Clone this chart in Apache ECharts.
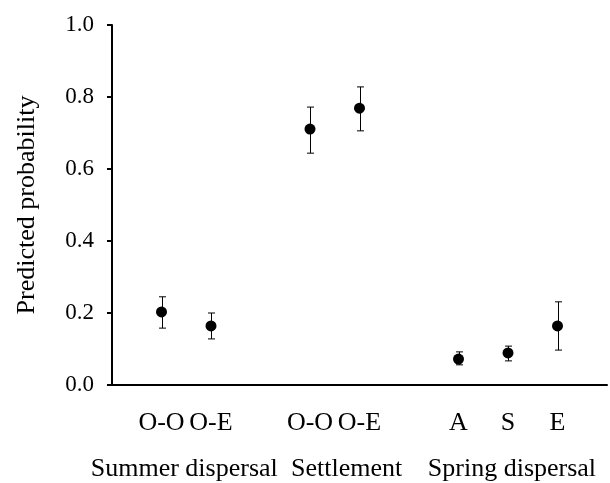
<!DOCTYPE html>
<html>
<head>
<meta charset="utf-8">
<script src="https://cdn.jsdelivr.net/npm/echarts@6/dist/echarts.min.js"></script>
<style>
  html, body { margin: 0; padding: 0; background: #fff; }
  #main { width: 610px; height: 483px; }
</style>
</head>
<body>
<div id="main"></div>
<script>
// categories on the x axis, blanks are the gaps between groups
var categories = ['', 'O-O', 'O-E', '', 'O-O', 'O-E', '', 'A', 'S', 'E', ''];
var means = [null, 0.203, 0.164, null, 0.711, 0.769, null, 0.072, 0.089, 0.164, null];
var lower = [null, 0.158, 0.128, null, 0.644, 0.706, null, 0.056, 0.067, 0.097, null];
var upper = [null, 0.245, 0.200, null, 0.772, 0.828, null, 0.092, 0.108, 0.231, null];
var groups = ['Summer dispersal', 'Settlement', 'Spring dispersal'];
var groupCenters = [1.46, 4.74, 8.08];
var yTicks = [0, 0.2, 0.4, 0.6, 0.8, 1.0];

var font = "'Liberation Serif', 'Times New Roman', serif";

var points = [], bars = [];
means.forEach(function (v, i) {
  if (v === null) return;
  points.push([i, v]);
  bars.push([i, lower[i], upper[i]]);
});

var myChart = echarts.init(document.getElementById('main'));
var option = {
  animation: false,
  grid: { left: 112, right: -2, top: 25, bottom: 98 },
  xAxis: {
    type: 'category',
    data: categories,
    boundaryGap: false,
    axisLine: { lineStyle: { color: '#000', width: 2 } },
    axisTick: { show: false },
    axisLabel: { interval: 0, margin: 25, color: '#000', fontSize: 26, fontFamily: font },
    splitLine: { show: false }
  },
  yAxis: {
    type: 'value',
    min: yTicks[0],
    max: yTicks[yTicks.length - 1],
    interval: 0.2,
    name: 'Predicted probability',
    nameLocation: 'middle',
    nameGap: 72,
    nameTextStyle: { color: '#000', fontSize: 26, fontFamily: font },
    axisLine: { show: true, lineStyle: { color: '#000', width: 2 } },
    axisTick: { show: true, length: 5, lineStyle: { color: '#000', width: 2 } },
    axisLabel: {
      margin: 18, color: '#000', fontSize: 23, fontFamily: font,
      formatter: function (v) { return v.toFixed(1); }
    },
    splitLine: { show: false }
  },
  series: [
    {
      type: 'custom',
      data: bars,
      renderItem: function (params, api) {
        var lo = api.coord([api.value(0), api.value(1)]);
        var hi = api.coord([api.value(0), api.value(2)]);
        var x = Math.round(lo[0]) + 0.5;
        var cap = 3.5;
        var style = { stroke: '#000', lineWidth: 1 };
        return {
          type: 'group',
          children: [
            { type: 'line', shape: { x1: x, y1: lo[1], x2: x, y2: hi[1] }, style: style },
            { type: 'line', shape: { x1: x - cap, y1: lo[1], x2: x + cap, y2: lo[1] }, style: style },
            { type: 'line', shape: { x1: x - cap, y1: hi[1], x2: x + cap, y2: hi[1] }, style: style }
          ]
        };
      },
      z: 2
    },
    {
      type: 'scatter',
      data: points,
      symbol: 'circle',
      symbolSize: 11,
      itemStyle: { color: '#000', opacity: 1 },
      z: 3
    }
  ]
};
myChart.setOption(option);

// group names below the tick labels; the category scale rounds, so
// interpolate between the two neighbouring category positions
function xPixel(v) {
  var a = Math.floor(v), b = a + 1;
  var pa = myChart.convertToPixel({ xAxisIndex: 0 }, a);
  var pb = myChart.convertToPixel({ xAxisIndex: 0 }, b);
  return pa + (pb - pa) * (v - a);
}
var baseY = myChart.convertToPixel({ yAxisIndex: 0 }, 0);
myChart.setOption({
  graphic: groups.map(function (g, i) {
    return {
      type: 'text',
      x: xPixel(groupCenters[i]),
      y: baseY + 84,
      style: {
        text: g, fill: '#000', fontSize: 26, fontFamily: font,
        align: 'center', verticalAlign: 'middle'
      }
    };
  })
});
</script>
</body>
</html>
